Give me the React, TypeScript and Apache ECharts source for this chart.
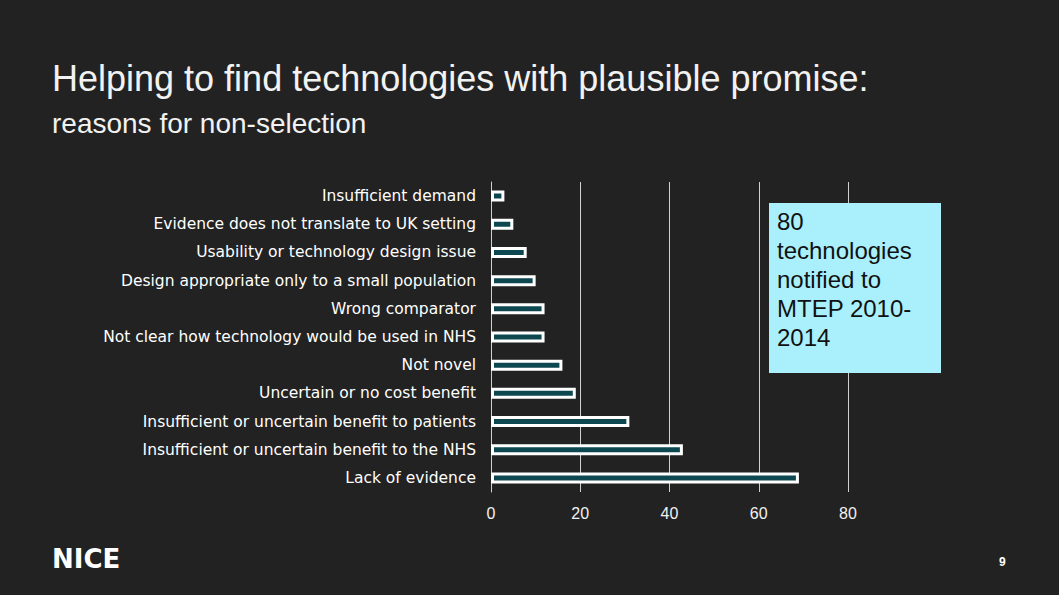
import {useEffect, useRef} from 'react';
import * as echarts from 'echarts';

const categories = [
    'Insufficient demand',
    'Evidence does not translate to UK setting',
    'Usability or technology design issue',
    'Design appropriate only to a small population',
    'Wrong comparator',
    'Not clear how technology would be used in NHS',
    'Not novel',
    'Uncertain or no cost benefit',
    'Insufficient or uncertain benefit to patients',
    'Insufficient or uncertain benefit to the NHS',
    'Lack of evidence',
];

const counts = [3, 5, 8, 10, 12, 12, 16, 19, 31, 43, 69];

const boxLines = ['80', 'technologies', 'notified to', 'MTEP 2010-', '2014'];

const FONT = '"Liberation Sans", Arial, sans-serif';

const App = () => {
    const chartRef = useRef<HTMLDivElement>(null);

    useEffect(() => {
        const myChart = echarts.init(chartRef.current!, null, {renderer: 'svg'});

        myChart.setOption({
            animation: false,
            backgroundColor: '#222222',
            grid: {left: 491, right: 211, top: 182, bottom: 103},
            xAxis: {
                type: 'value',
                min: 0,
                max: 80,
                interval: 20,
                axisLine: {show: false},
                axisTick: {show: false},
                axisLabel: {color: '#f2f2f2', fontSize: 16, fontFamily: FONT, margin: 13},
                splitLine: {lineStyle: {color: '#d0d0d0', width: 1}},
            },
            yAxis: {
                type: 'category',
                inverse: true,
                data: categories,
                axisLine: {lineStyle: {color: '#d0d0d0', width: 1}},
                axisTick: {length: 5, lineStyle: {color: '#d0d0d0'}},
                axisLabel: {
                    color: '#ffffff',
                    fontSize: 15.5,
                    fontFamily: '"DejaVu Sans", sans-serif',
                    margin: 15,
                },
            },
            series: [
                {
                    type: 'bar',
                    data: counts,
                    barWidth: 11,
                    itemStyle: {color: '#0d4750', borderColor: '#ffffff', borderWidth: 3},
                },
            ],
            graphic: [
                {
                    type: 'text',
                    x: 52,
                    y: 60,
                    style: {
                        text: 'Helping to find technologies with plausible promise:',
                        fill: '#f2f2f2',
                        font: `36px ${FONT}`,
                        verticalAlign: 'top',
                    },
                },
                {
                    type: 'text',
                    x: 52,
                    y: 109,
                    style: {
                        text: 'reasons for non-selection',
                        fill: '#f2f2f2',
                        font: `28px ${FONT}`,
                        verticalAlign: 'top',
                    },
                },
                {
                    type: 'rect',
                    shape: {x: 769, y: 203, width: 172, height: 170},
                    style: {fill: '#aaf0fc'},
                    z: 10,
                },
                {
                    type: 'text',
                    x: 777,
                    y: 207,
                    z: 11,
                    style: {
                        text: boxLines.join('\n'),
                        fill: '#111111',
                        font: `24px ${FONT}`,
                        lineHeight: 29,
                        verticalAlign: 'top',
                    },
                },
                {
                    type: 'text',
                    x: 52,
                    y: 546,
                    style: {
                        text: 'NICE',
                        fill: '#ffffff',
                        font: `bold 26px "DejaVu Sans", sans-serif`,
                        verticalAlign: 'top',
                    },
                },
                {
                    type: 'text',
                    x: 999,
                    y: 556,
                    style: {
                        text: '9',
                        fill: '#ffffff',
                        font: `bold 12px ${FONT}`,
                        verticalAlign: 'top',
                    },
                },
            ],
        });

        return () => {
            myChart.dispose();
        };
    }, []);

    return (
        <div
            ref={chartRef}
            style={{position: 'fixed', left: 0, top: 0, width: '1059px', height: '595px'}}
        />
    );
};

export default App;
